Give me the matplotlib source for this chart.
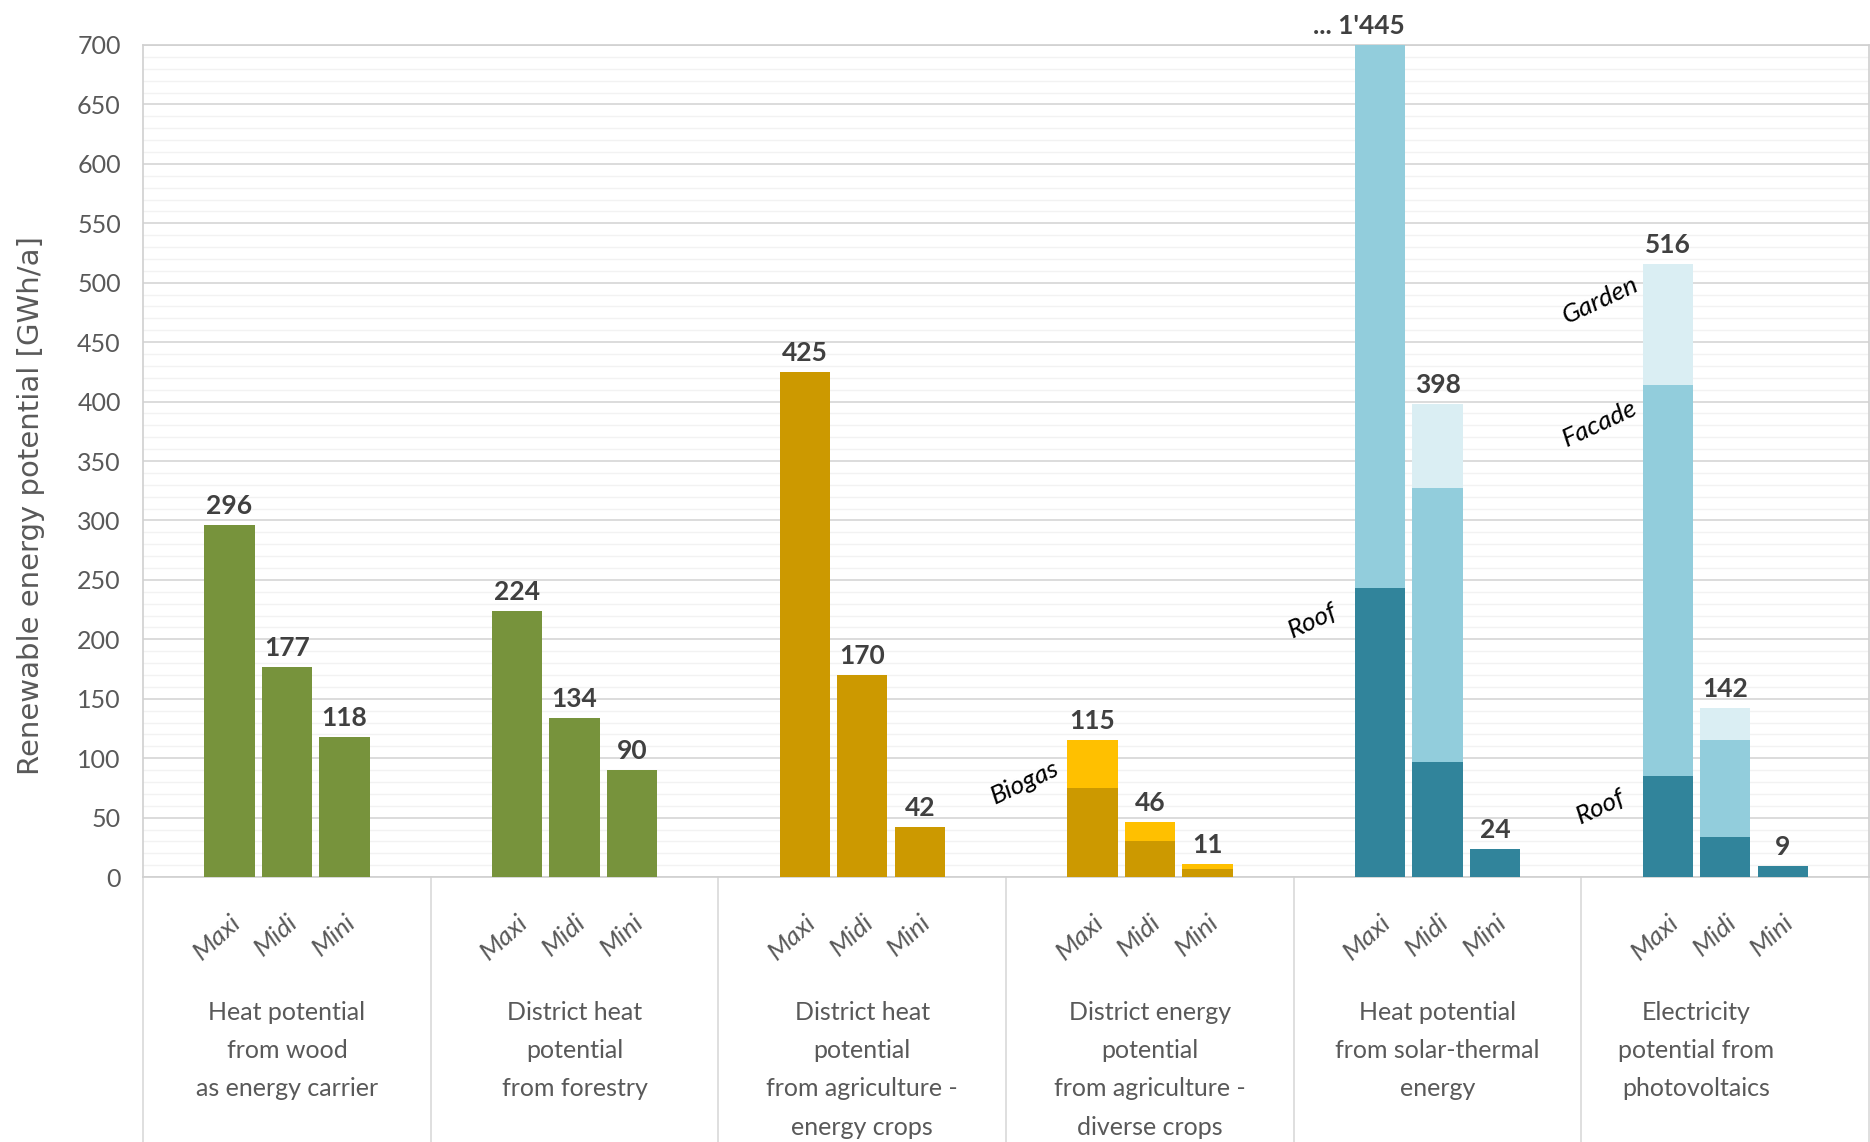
import numpy as np
import matplotlib
matplotlib.use("Agg")
import matplotlib.pyplot as plt
from matplotlib.ticker import MultipleLocator

# categories and scenarios
categories = [
    "Heat potential\nfrom wood\nas energy carrier",
    "District heat\npotential\nfrom forestry",
    "District heat\npotential\nfrom agriculture -\nenergy crops",
    "District energy\npotential\nfrom agriculture -\ndiverse crops",
    "Heat potential\nfrom solar-thermal\nenergy",
    "Electricity\npotential from\nphotovoltaics",
]
scenarios = ["Maxi", "Midi", "Mini"]

# values [GWh/a] per scenario (Maxi, Midi, Mini)
wood = [296, 177, 118]
forestry = [224, 134, 90]
energy_crops = [425, 170, 42]
diverse_crops = [75, 30, 7]
biogas = [40, 16, 4]
solar_roof = [243, 97, 24]
solar_facade = [1202, 230, 0]
solar_garden = [0, 71, 0]
pv_roof = [85, 34, 9]
pv_facade = [329, 81, 0]
pv_garden = [102, 27, 0]

green = "#77933C"
gold = "#CC9900"
yellow = "#FFC000"
teal_dark = "#31849B"
teal_mid = "#92CDDC"
teal_light = "#DAEEF3"

# stacked segments per category
stacks = [
    [(wood, green)],
    [(forestry, green)],
    [(energy_crops, gold)],
    [(diverse_crops, gold), (biogas, yellow)],
    [(solar_roof, teal_dark), (solar_facade, teal_mid), (solar_garden, teal_light)],
    [(pv_roof, teal_dark), (pv_facade, teal_mid), (pv_garden, teal_light)],
]

font = ["Lato", "DejaVu Sans"]
gray_txt = "#595959"
ymax = 700

fig = plt.figure(figsize=(18.7, 11.42), dpi=100)
ax = fig.add_axes([0.0765, 0.232, 0.9230, 0.7286])

offsets = np.array([-0.2, 0.0, 0.2])
width = 0.175
xticks = []
for i, segs in enumerate(stacks):
    xs = i + offsets
    xticks.extend(xs)
    bottom = np.zeros(3)
    for vals, col in segs:
        ax.bar(xs, vals, width, bottom=bottom, color=col, zorder=3)
        bottom = bottom + np.array(vals)
    for x, tot in zip(xs, bottom):
        if tot > ymax:
            ax.annotate("... " + f"{int(tot):,}".replace(",", "'"), (x + width / 2, ymax),
                        xytext=(0, 5), textcoords="offset points", ha="right", va="bottom",
                        fontsize=19, fontweight="bold", color="#404040", family=font,
                        annotation_clip=False)
        else:
            ax.annotate(f"{int(tot)}", (x, tot), xytext=(0, 5), textcoords="offset points",
                        ha="center", va="bottom", fontsize=19, fontweight="bold",
                        color="#404040", family=font)

# segment labels
seg_labels = [("Biogas", 3, 80), ("Roof", 4, 216), ("Garden", 5, 485),
              ("Facade", 5, 382), ("Roof", 5, 59)]
for txt, g, yv in seg_labels:
    ax.text(g - 0.2 - 0.235, yv, txt, rotation=25, ha="center", va="center",
            fontsize=19, style="italic", color="black", family=font, zorder=4)

ax.set_xlim(-0.5, 5.5)
ax.set_ylim(0, ymax)
ax.yaxis.set_major_locator(MultipleLocator(50))
ax.yaxis.set_minor_locator(MultipleLocator(10))
ax.grid(True, which="major", axis="y", color="#D9D9D9", linewidth=1.3, zorder=0)
ax.grid(True, which="minor", axis="y", color="#F2F2F2", linewidth=1.0, zorder=0)
ax.set_axisbelow(True)
for s in ax.spines.values():
    s.set_color("#D0D0D0")
    s.set_linewidth(1.2)

ax.tick_params(axis="y", which="both", length=0, pad=16, labelsize=18, labelcolor=gray_txt)
for lab in ax.get_yticklabels():
    lab.set_family(font)

ax.set_xticks(xticks)
ax.set_xticklabels(scenarios * len(categories), rotation=42, ha="right",
                   rotation_mode="anchor", fontsize=19, style="italic",
                   color=gray_txt, family=font)
ax.tick_params(axis="x", length=0, pad=24)

# category separators and names below the axis
trans = ax.get_xaxis_transform()
for b in np.arange(-0.5, 6.0, 1.0):
    ax.plot([b, b], [0, -0.32], color="#D9D9D9", linewidth=1.2,
            transform=trans, clip_on=False)
name_shift = [0, 0, 0, 0, 0, -0.1]
for i, name in enumerate(categories):
    ax.text(i + name_shift[i], -0.149, name, transform=trans, ha="center", va="top",
            fontsize=18, color=gray_txt, family=font, linespacing=1.8)

ax.set_ylabel("Renewable energy potential [GWh/a]", fontsize=21, color=gray_txt)
ax.yaxis.set_label_coords(-0.057, 0.446)

fig.savefig("out.png", dpi=100)
